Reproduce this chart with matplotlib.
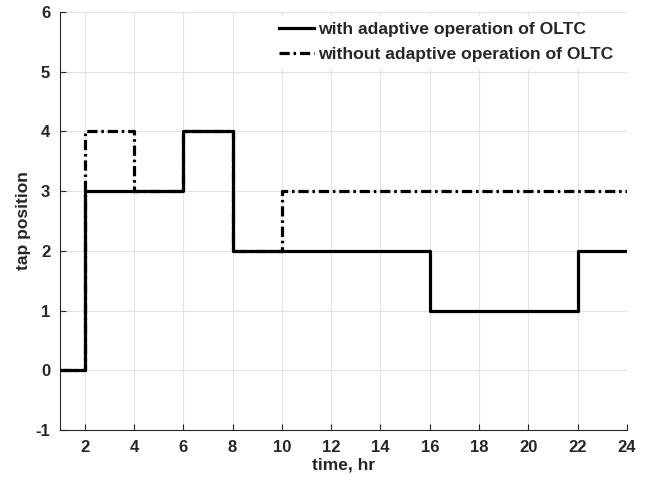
import matplotlib.pyplot as plt

# hourly tap positions of the OLTC
hours = list(range(1, 25))
tap_adaptive = [0, 3, 3, 3, 3, 4, 4, 2, 2, 2, 2, 2, 2, 2, 2, 1, 1, 1, 1, 1, 1, 2, 2, 2]
tap_fixed = [0, 4, 4, 3, 3, 4, 4, 2, 2, 3, 3, 3, 3, 3, 3, 3, 3, 3, 3, 3, 3, 3, 3, 3]
xticks = list(range(2, 25, 2))
yticks = list(range(-1, 7))

plt.rcParams['font.family'] = ['Liberation Sans', 'DejaVu Sans']
plt.rcParams['font.weight'] = 'bold'
plt.rcParams['axes.unicode_minus'] = False

fig = plt.figure(figsize=(6.52, 4.83), dpi=100)
ax = fig.add_axes([60 / 652, 53 / 483, 567 / 652, 418 / 483])

ax.plot(hours, tap_adaptive, color='black', lw=2.3, drawstyle='steps-post',
        label='with adaptive operation of OLTC', zorder=3)
ax.plot(hours, tap_fixed, color='black', lw=2.3, drawstyle='steps-post',
        linestyle=(0, (3.2, 1.2, 0.8, 1.2)),
        label='without adaptive operation of OLTC', zorder=2)

ax.set_xlim(1, 24)
ax.set_ylim(-1, 6)
ax.set_xticks(xticks)
ax.set_yticks(yticks)
ax.grid(True, color='#e3e3e3', lw=0.8)
ax.set_axisbelow(True)

for side in ['top', 'right']:
    ax.spines[side].set_visible(False)
for side in ['left', 'bottom']:
    ax.spines[side].set_color('#262626')
    ax.spines[side].set_linewidth(0.8)
ax.tick_params(direction='in', length=4, width=0.8, color='#262626',
               labelsize=12, labelcolor='#262626', pad=7)

ax.set_xlabel('time, hr', fontsize=12.5, fontweight='bold', color='#262626', labelpad=2)
ax.set_ylabel('tap position', fontsize=12.5, fontweight='bold', color='#262626', labelpad=3)

leg = ax.legend(loc='upper right', bbox_to_anchor=(0.985, 0.99), frameon=True, fancybox=False,
                facecolor='white', edgecolor='white', framealpha=1,
                handlelength=2.0, handletextpad=0.2, borderaxespad=0.0,
                borderpad=0.3, labelspacing=0.6, prop={'weight': 'bold', 'size': 12.6})
for t in leg.get_texts():
    t.set_color('#262626')

fig.savefig('out.png', dpi=100)
